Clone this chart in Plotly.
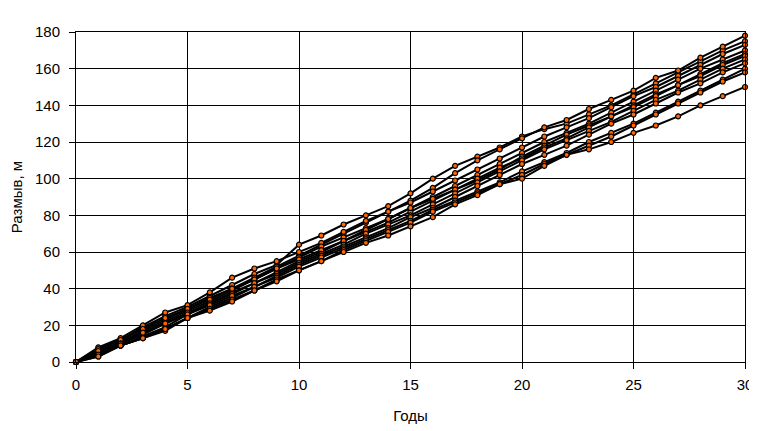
import plotly.graph_objects as go

years = list(range(31))

S1 = [0,7,12,19,25,30,36,42,48,53,64,69,75,80,85,92,100,107,112,117,123,127,130,135,140,146,152,158,164,170,175]
S2 = [0,6,11,17,23,29,35,40,46,52,58,64,70,76,82,88,95,103,110,116,122,128,132,138,143,148,155,159,166,172,178]
S3 = [0,8,13,20,27,31,38,46,51,55,60,65,71,77,82,87,93,99,105,111,117,123,128,133,139,145,150,156,162,168,173]
S4 = [0,5,10,16,22,28,33,39,45,51,57,63,68,73,78,84,90,96,102,108,114,120,125,130,136,142,148,154,160,165,170]
S5 = [0,4,9,14,19,26,32,38,43,49,55,60,66,71,76,82,88,94,99,105,112,118,124,129,134,140,146,151,157,163,168]
S6 = [0,7,12,18,24,29,34,40,45,51,56,61,66,72,78,84,89,94,100,106,111,117,122,128,134,139,145,151,156,162,167]
S7 = [0,5,10,15,21,27,32,37,43,48,54,59,64,70,75,80,86,92,98,104,110,116,121,126,131,137,143,148,154,160,165]
S8 = [0,3,9,13,18,24,30,35,41,47,53,58,63,68,73,79,84,90,96,102,108,113,118,124,130,135,141,147,152,158,163]
S9 = [0,6,10,16,21,26,31,36,41,46,52,57,62,67,72,77,83,88,93,98,104,109,114,120,125,130,136,142,148,154,160]
S10 = [0,4,9,13,17,24,29,34,39,45,50,55,61,66,71,76,82,87,92,97,102,108,113,118,123,129,135,141,147,153,158]
S11 = [0,3,9,13,18,24,28,33,39,44,50,55,60,65,69,74,79,86,91,97,100,107,113,116,120,125,129,134,140,145,150]

series = [S1, S2, S3, S4, S5, S6, S7, S8, S9, S10, S11]

x_ticks = [0, 5, 10, 15, 20, 25, 30]
y_ticks = [0, 20, 40, 60, 80, 100, 120, 140, 160, 180]

fig = go.Figure()
for s in series:
    fig.add_trace(go.Scatter(
        x=years, y=s, mode="lines+markers",
        line=dict(color="black", width=2),
        marker=dict(symbol="circle", size=5, color="#FF6600",
                    line=dict(color="black", width=1.2)),
        cliponaxis=False, showlegend=False, hoverinfo="skip"))

axis_font = dict(family="Arial, Liberation Sans, sans-serif", size=15, color="black")
fig.update_layout(
    width=757, height=423,
    margin=dict(l=68, r=20, t=24, b=69),
    paper_bgcolor="white", plot_bgcolor="white",
    font=axis_font,
    xaxis=dict(range=[0, 30], tickvals=x_ticks, showgrid=True, gridcolor="black",
               gridwidth=1, showline=True, linecolor="black", linewidth=1, mirror=True,
               ticks="outside", ticklen=6, tickcolor="black", zeroline=False,
               automargin=False, ticklabelstandoff=3,
               title=dict(text="Годы", font=axis_font, standoff=18), tickfont=axis_font),
    yaxis=dict(range=[0, 180], tickvals=y_ticks, showgrid=True, gridcolor="black",
               gridwidth=1, showline=True, linecolor="black", linewidth=1, mirror=True,
               ticks="outside", ticklen=6, tickcolor="black", zeroline=False,
               automargin=False, ticklabelstandoff=6,
               title=dict(text="Размыв, м", font=axis_font, standoff=12), tickfont=axis_font),
)

fig.write_html("out.html", post_script="document.body.style.overflow='hidden';")
